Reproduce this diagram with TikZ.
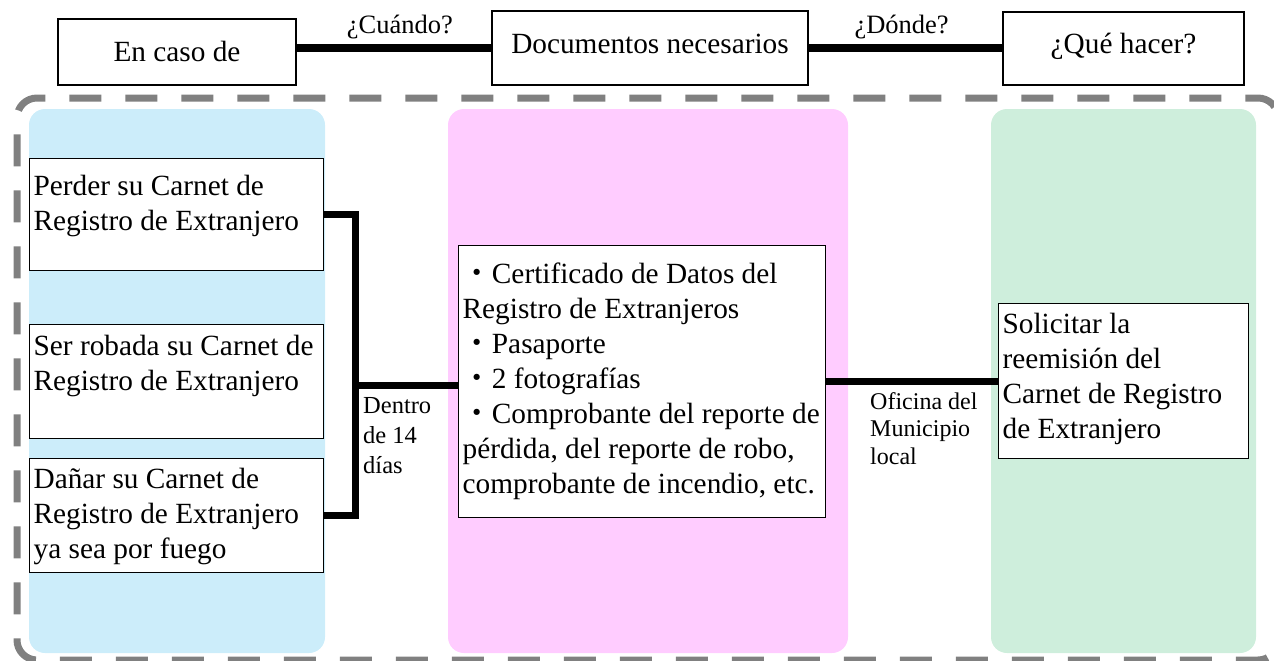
\documentclass[tikz,border=0pt]{standalone}
\usepackage{fontspec}
\setmainfont{Liberation Serif}
\newfontfamily\cjk{Noto Sans CJK JP}
\usetikzlibrary{calc}

\definecolor{framegray}{RGB}{128,128,128}
\definecolor{bluefill}{RGB}{204,237,250}
\definecolor{pinkfill}{RGB}{255,204,255}
\definecolor{greenfill}{RGB}{206,238,220}

% box text: width, height, first baseline, lines
\newcommand{\boxtext}[4]{\parbox[c][#2pt][t]{#1pt}{\raggedright\rule{0pt}{#3pt}#4}}
\newcommand{\dotitem}{{\cjk ・}}

\begin{document}
\begin{tikzpicture}[x=1pt,y=-1pt,
  headbox/.style={draw,fill=white,line width=1.3pt,inner sep=0pt,text height=20pt,text depth=9pt,font=\fontsize{29.3}{35}\selectfont},
  card/.style={draw,fill=white,line width=1.3pt,inner xsep=4pt,inner ysep=0pt,anchor=north west,font=\fontsize{29.3}{35}\selectfont},
  link/.style={line width=7.5pt},
  ask/.style={midway,anchor=base,yshift=14pt,font=\fontsize{26.5}{30}\selectfont},
  note/.style={anchor=north west,inner sep=0pt,align=left},
  frame/.style={draw=framegray,line width=7pt,dash pattern=on 32pt off 24pt,dash phase=26pt,rounded corners=20pt}]
   \useasboundingbox (0,0) rectangle (1274,661);

   % panels
   \fill[bluefill,rounded corners=16pt] (29,109) rectangle (325,653);
   \fill[pinkfill,rounded corners=16pt] (448,109) rectangle (848,653);
   \fill[greenfill,rounded corners=16pt] (991,109) rectangle (1256,653);

   \draw[frame] (1278,380) -- (1278,98) -- (17,98) -- (17,660) -- (1278,660) -- cycle;

   % header
   \node[headbox,text depth=0pt,minimum width=238pt,minimum height=66pt] (caseHead) at (177,52) {En caso de};
   \node[headbox,minimum width=316pt,minimum height=74pt] (docsHead) at (650,48) {Documentos necesarios};
   \node[headbox,minimum width=241pt,minimum height=73pt] (whatHead) at (1123.5,48.5) {¿Qué hacer?};

   \draw[link] (caseHead.east |- docsHead.west) -- node[ask,pos=0.53] {¿Cuándo?} (docsHead.west);
   \draw[link] (docsHead.east) -- node[ask,pos=0.48] {¿Dónde?} (whatHead.west |- docsHead.east);

   % cases
   \node[card] (lossBox) at (29,158) {\boxtext{286}{112}{37}{Perder su Carnet de\\Registro de Extranjero}};
   \node[card] (theftBox) at (29,324) {\boxtext{286}{114}{31}{Ser robada su Carnet de\\Registro de Extranjero}};
   \node[card] (damageBox) at (29,458) {\boxtext{286}{114}{30}{Dañar su Carnet de\\Registro de Extranjero\\ya sea por fuego}};

   % documents
   \node[card] (docsBox) at (458,245) {\boxtext{359}{272}{38}{\dotitem Certificado de Datos del\\Registro de Extranjeros\\\dotitem Pasaporte\\\dotitem 2 fotografías\\\dotitem Comprobante del reporte de\\pérdida, del reporte de robo,\\comprobante de incendio, etc.}};

   % what to do
   \node[card] (solveBox) at (998,303) {\boxtext{242}{155}{30}{Solicitar la\\reemisión del\\Carnet de Registro\\de Extranjero}};

   \coordinate (fork) at ($(lossBox.east |- docsBox.west)+(31,4)$);
   \draw[link] (lossBox.east) -| (fork) |- (damageBox.east);
   \draw[link] (fork) -- (fork -| docsBox.west);
   \draw[link] (docsBox.east) -- (docsBox.east -| solveBox.west);

   \node[note,font=\fontsize{24.5}{30}\selectfont] (withinNote) at (363,397) {Dentro\\de 14\\días};
   \node[note,font=\fontsize{24}{27.5}\selectfont] (officeNote) at (870,392) {Oficina del\\Municipio\\local};

\end{tikzpicture}
\end{document}
